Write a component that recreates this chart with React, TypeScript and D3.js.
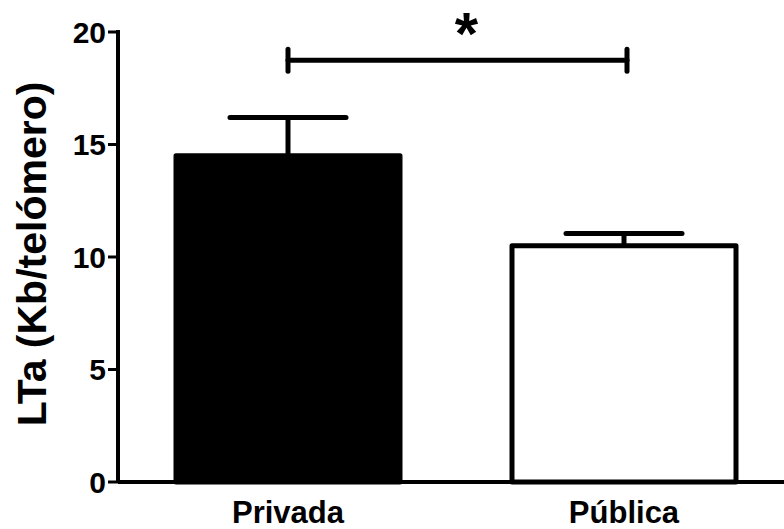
// App.tsx
import React, { useEffect, useRef } from 'react';
import * as d3 from 'd3';

const groups = ['Privada', 'Pública'];
const means = [14.5, 10.5];
const sems = [1.7, 0.55];
const fills = ['#000000', '#ffffff'];
const yTicks = [0, 5, 10, 15, 20];
const bracketLevel = 18.75;
const bracketLabel = '*';

export default function App() {
    const ref = useRef<SVGSVGElement | null>(null);

    useEffect(() => {
        drawChart();
        // eslint-disable-next-line
    }, []);

    function drawChart() {
        const width = 784;
        const height = 529;
        const font = '"Liberation Sans", Arial, sans-serif';

        const svg = d3.select(ref.current);
        svg.selectAll('*').remove();

        const y = d3.scaleLinear().domain([0, 20]).range([482, 32]);
        const x = d3.scalePoint<string>().domain(groups).range([288, 624]);
        const axisX = 118;
        const barW = 224;
        const capW = 116;

        // bars
        svg.selectAll('rect.bar')
            .data(groups)
            .enter()
            .append('rect')
            .attr('class', 'bar')
            .attr('x', (d) => x(d)! - barW / 2)
            .attr('y', (d, i) => y(means[i]))
            .attr('width', barW)
            .attr('height', (d, i) => y(0) - y(means[i]))
            .attr('fill', (d, i) => fills[i])
            .attr('stroke', '#000')
            .attr('stroke-width', 5)
            .attr('stroke-linejoin', 'round');

        // error bars (upper only)
        const err = svg.selectAll('g.err').data(groups).enter().append('g').attr('class', 'err');
        err.append('line')
            .attr('x1', (d) => x(d)!)
            .attr('x2', (d) => x(d)!)
            .attr('y1', (d, i) => y(means[i]))
            .attr('y2', (d, i) => y(means[i] + sems[i]))
            .attr('stroke', '#000')
            .attr('stroke-width', 5);
        err.append('line')
            .attr('x1', (d) => x(d)! - capW / 2)
            .attr('x2', (d) => x(d)! + capW / 2)
            .attr('y1', (d, i) => y(means[i] + sems[i]))
            .attr('y2', (d, i) => y(means[i] + sems[i]))
            .attr('stroke', '#000')
            .attr('stroke-width', 5)
            .attr('stroke-linecap', 'round');

        // y axis
        const yAxis = svg.append('g').attr('transform', `translate(${axisX},0)`);
        yAxis.append('line')
            .attr('x1', 0)
            .attr('x2', 0)
            .attr('y1', y(20) - 2)
            .attr('y2', y(0))
            .attr('stroke', '#000')
            .attr('stroke-width', 4);
        const ticks = yAxis.selectAll('g.tick').data(yTicks).enter().append('g').attr('class', 'tick');
        ticks.append('line')
            .attr('x1', -10)
            .attr('x2', 0)
            .attr('y1', (d) => y(d))
            .attr('y2', (d) => y(d))
            .attr('stroke', '#000')
            .attr('stroke-width', 3);
        ticks.append('text')
            .attr('x', -12)
            .attr('y', (d) => y(d))
            .attr('dy', '0.36em')
            .attr('text-anchor', 'end')
            .style('font-family', font)
            .style('font-weight', 'bold')
            .style('font-size', '30px')
            .text((d) => d);

        // x axis baseline
        svg.append('line')
            .attr('x1', axisX)
            .attr('x2', width)
            .attr('y1', y(0))
            .attr('y2', y(0))
            .attr('stroke', '#000')
            .attr('stroke-width', 4);

        svg.selectAll('text.xlab')
            .data(groups)
            .enter()
            .append('text')
            .attr('class', 'xlab')
            .attr('x', (d) => x(d)!)
            .attr('y', 523)
            .attr('text-anchor', 'middle')
            .style('font-family', font)
            .style('font-weight', 'bold')
            .style('font-size', '31px')
            .text((d) => d);

        // y title
        svg.append('text')
            .attr('transform', `translate(46,254) rotate(-90)`)
            .attr('text-anchor', 'middle')
            .style('font-family', font)
            .style('font-weight', 'bold')
            .style('font-size', '41px')
            .text('LTa (Kb/telómero)');

        // significance bracket
        const bx1 = x(groups[0])!;
        const bx2 = x(groups[1])! + 3;
        const by = y(bracketLevel);
        const br = svg.append('g').attr('stroke', '#000').attr('stroke-width', 5).attr('stroke-linecap', 'round');
        br.append('line').attr('x1', bx1).attr('x2', bx2).attr('y1', by).attr('y2', by);
        br.append('line').attr('x1', bx1).attr('x2', bx1).attr('y1', by - 11).attr('y2', by + 11);
        br.append('line').attr('x1', bx2).attr('x2', bx2).attr('y1', by - 11).attr('y2', by + 11);
        svg.append('text')
            .attr('x', (bx1 + bx2) / 2 + 9)
            .attr('y', 54)
            .attr('text-anchor', 'middle')
            .style('font-family', font)
            .style('font-weight', 'bold')
            .style('font-size', '60px')
            .text(bracketLabel);

        svg.attr('width', width).attr('height', height);
    }

    return (
        <svg
            ref={ref}
            width={784}
            height={529}
            style={{ position: 'absolute', left: 0, top: 0, background: '#fff' }}
        />
    );
}
